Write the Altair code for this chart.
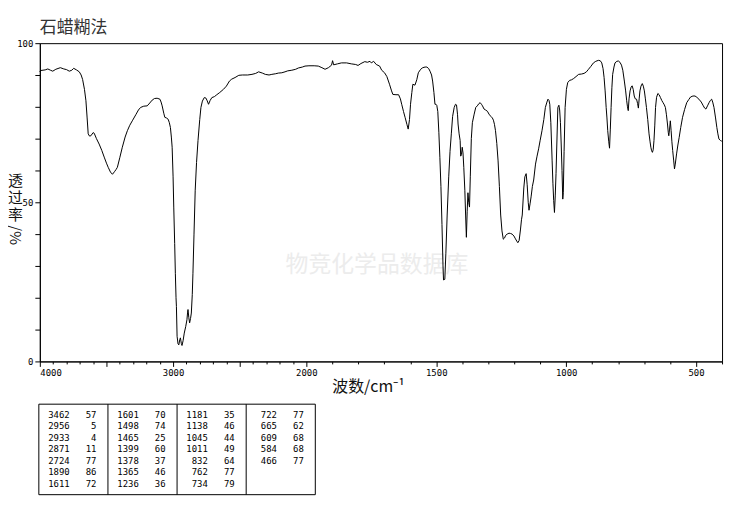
import altair as alt
import pandas as pd

# ---- spectrum (wavenumber cm-1, transmittance %) ----
wavenumber = [
    4000, 3995, 3960, 3940, 3920, 3903, 3880, 3846, 3820, 3800, 3779, 3760, 3746, 3725, 3704, 3690,
    3679, 3665, 3654, 3645, 3637, 3627, 3617, 3600, 3592, 3575, 3555, 3535, 3517, 3500, 3487, 3470,
    3455, 3440, 3428, 3418, 3400, 3381, 3360, 3343, 3325, 3306, 3280, 3260, 3244, 3220, 3194, 3175,
    3157, 3140, 3120, 3099, 3090, 3082, 3070, 3062, 3050, 3037, 3028, 3020, 3013, 3007, 3000, 2995,
    2988, 2983, 2978, 2975, 2970, 2963, 2957, 2950, 2945, 2938, 2933, 2925, 2916, 2905, 2896, 2891,
    2888, 2882, 2876, 2869, 2863, 2856, 2851, 2843, 2834, 2824, 2813, 2800, 2791, 2780, 2766, 2755,
    2746, 2734, 2722, 2709, 2690, 2672, 2650, 2622, 2600, 2577, 2560, 2535, 2507, 2480, 2460, 2440,
    2408, 2380, 2358, 2330, 2308, 2280, 2259, 2230, 2210, 2184, 2160, 2140, 2109, 2080, 2060, 2030,
    2010, 1990, 1970, 1954, 1940, 1928, 1915, 1903, 1899, 1895, 1880, 1865, 1845, 1827, 1810, 1801,
    1790, 1775, 1765, 1755, 1750, 1741, 1731, 1718, 1710, 1699, 1690, 1680, 1672, 1667, 1655, 1645,
    1638, 1633, 1626, 1620, 1613, 1608, 1603, 1599, 1594, 1590, 1582, 1575, 1569, 1560, 1552, 1543,
    1536, 1529, 1524, 1518, 1514, 1509, 1505, 1501, 1498, 1494, 1490, 1486, 1482, 1478, 1474, 1472,
    1467, 1463, 1458, 1452, 1447, 1442, 1437, 1431, 1426, 1422, 1418, 1416, 1412, 1408, 1406, 1403,
    1400, 1397, 1394, 1390, 1387, 1384, 1381, 1378, 1375, 1372, 1369, 1365, 1361, 1354, 1348, 1342,
    1336, 1331, 1326, 1322, 1316, 1310, 1303, 1297, 1290, 1284, 1280, 1276, 1272, 1267, 1262, 1257,
    1252, 1247, 1242, 1237, 1233, 1227, 1220, 1214, 1208, 1201, 1195, 1190, 1186, 1181, 1176, 1172,
    1169, 1163, 1159, 1154, 1150, 1146, 1143, 1139, 1135, 1130, 1125, 1118, 1112, 1106, 1100, 1093,
    1086, 1080, 1074, 1070, 1066, 1063, 1059, 1056, 1054, 1051, 1048, 1045, 1042, 1039, 1036, 1032,
    1028, 1025, 1022, 1019, 1016, 1013, 1011, 1008, 1004, 999, 994, 987, 979, 971, 962, 952,
    941, 931, 922, 914, 905, 895, 886, 876, 869, 863, 858, 854, 850, 846, 843, 840,
    836, 833, 830, 827, 824, 821, 816, 812, 805, 799, 793, 787, 782, 776, 771, 767,
    764, 761, 758, 754, 750, 746, 742, 738, 734, 729, 725, 722, 719, 716, 712, 707,
    703, 699, 695, 691, 686, 681, 677, 674, 671, 668, 665, 662, 659, 656, 652, 647,
    642, 637, 632, 627, 622, 618, 614, 610, 607, 605, 602, 599, 596, 593, 590, 586,
    583, 580, 575, 570, 565, 559, 552, 544, 536, 528, 521, 512, 504, 497, 489, 480,
    472, 467, 462, 456, 450, 445, 440, 436, 431, 425, 420, 416, 412, 406, 401,
]
transmittance = [
    91.0, 91.4, 91.6, 91.9, 91.5, 91.2, 91.8, 92.3, 91.9, 91.7, 91.2, 91.5, 92.1, 91.6, 91.0, 90.0,
    88.6, 85.5, 81.9, 76.5, 71.5, 70.8, 70.9, 71.9, 71.7, 70.0, 68.3, 66.3, 64.2, 62.3, 61.0, 59.5,
    58.8, 59.6, 60.3, 61.0, 64.0, 67.3, 70.5, 72.5, 74.2, 75.6, 77.5, 79.0, 79.8, 80.2, 80.3, 81.2,
    82.1, 82.6, 82.7, 82.4, 81.5, 80.3, 78.0, 76.7, 76.5, 76.1, 75.0, 73.5, 70.5, 67.3, 58.0, 48.5,
    37.0, 27.7, 20.0, 17.3, 7.9, 5.5, 5.2, 6.8, 7.4, 5.6, 5.0, 6.5, 8.9, 11.0, 13.1, 15.5,
    16.3, 13.8, 12.1, 13.5, 15.2, 21.0, 27.7, 40.0, 53.8, 62.5, 69.4, 76.0, 79.8, 81.8, 82.9, 82.8,
    82.1, 80.8, 82.0, 82.9, 83.2, 83.8, 84.5, 85.5, 86.5, 88.1, 88.7, 89.2, 89.9, 90.0, 90.0, 90.0,
    90.2, 90.5, 91.0, 90.6, 90.2, 90.0, 90.2, 90.4, 90.6, 90.7, 91.0, 91.3, 91.5, 91.8, 92.2, 92.5,
    92.8, 92.9, 92.9, 92.8, 92.3, 91.8, 92.3, 93.1, 94.5, 93.2, 93.5, 93.8, 93.8, 93.5, 93.3, 93.0,
    93.6, 94.2, 94.0, 94.3, 93.8, 94.3, 93.3, 92.8, 91.5, 90.7, 89.5, 87.1, 85.0, 83.9, 83.8, 83.8,
    82.5, 80.8, 78.5, 76.7, 74.5, 73.0, 76.0, 80.8, 84.5, 87.1, 86.8, 88.5, 90.7, 91.8, 92.3, 92.5,
    92.5, 92.0, 91.2, 90.0, 88.1, 84.5, 80.8, 80.8, 80.5, 78.5, 72.0, 64.0, 55.0, 43.0, 30.0, 25.6,
    25.8, 34.0, 46.0, 58.0, 66.0, 71.5, 77.0, 79.8, 80.8, 80.6, 77.5, 74.6, 71.5, 69.4, 64.5, 65.0,
    67.3, 65.5, 61.0, 53.8, 46.0, 39.0, 47.0, 53.0, 50.0, 48.5, 58.0, 70.0, 75.0, 77.7, 79.8, 80.3,
    81.0, 81.3, 80.8, 80.3, 79.3, 79.0, 78.6, 77.7, 77.0, 76.5, 75.8, 74.5, 72.5, 68.5, 63.0, 55.0,
    46.0, 41.0, 38.4, 38.8, 39.6, 40.0, 40.3, 40.2, 40.0, 39.4, 38.5, 37.8, 37.3, 38.0, 41.3, 44.5,
    46.0, 54.5, 58.0, 59.0, 55.5, 50.0, 47.5, 49.5, 51.7, 55.0, 57.0, 62.0, 64.5, 66.8, 69.5, 72.5,
    76.0, 79.8, 81.5, 82.4, 82.0, 80.8, 75.0, 68.0, 63.0, 56.0, 50.6, 46.8, 52.0, 59.0, 68.0, 79.8,
    80.5, 79.0, 75.0, 68.0, 60.0, 51.0, 53.0, 66.0, 79.8, 85.5, 87.6, 88.3, 88.5, 88.9, 89.5, 90.2,
    90.3, 90.5, 91.0, 91.8, 92.7, 93.8, 94.3, 94.6, 94.5, 93.8, 92.0, 89.2, 85.0, 79.8, 76.5, 72.5,
    69.0, 67.0, 73.0, 79.8, 86.0, 90.2, 92.5, 93.8, 94.3, 94.4, 94.0, 93.1, 91.5, 88.1, 85.0, 81.9,
    80.0, 78.8, 82.5, 85.0, 86.2, 86.6, 85.5, 83.4, 82.5, 82.4, 81.0, 79.6, 82.5, 85.0, 86.5, 87.3,
    86.5, 85.0, 82.5, 79.8, 76.0, 71.5, 69.0, 67.3, 66.2, 65.7, 66.5, 69.4, 74.0, 79.8, 83.0, 84.2,
    83.8, 82.9, 82.0, 81.3, 80.6, 79.8, 77.5, 74.6, 72.0, 70.9, 73.0, 75.6, 72.5, 69.0, 66.3, 63.0,
    60.5, 62.0, 65.2, 68.0, 70.4, 73.5, 76.7, 79.2, 81.3, 82.3, 83.1, 83.4, 83.4, 83.0, 82.4, 81.5,
    80.3, 79.6, 79.3, 80.3, 81.3, 82.0, 82.4, 81.5, 79.8, 76.5, 73.5, 71.5, 69.9, 69.4, 69.2,
]

# ---- peak table ----
peak_wn_col1 = [3462, 2956, 2933, 2871, 2724, 1890, 1611]
peak_t_col1 = [57, 5, 4, 11, 77, 86, 72]
peak_wn_col2 = [1601, 1498, 1465, 1399, 1378, 1365, 1236]
peak_t_col2 = [70, 74, 25, 60, 37, 46, 36]
peak_wn_col3 = [1181, 1138, 1045, 1011, 832, 762, 734]
peak_t_col3 = [35, 46, 44, 49, 64, 77, 79]
peak_wn_col4 = [722, 665, 609, 584, 466]
peak_t_col4 = [77, 62, 68, 68, 77]

title_text = "石蜡糊法"
x_title = "波数/cm⁻¹"
y_title_lines = ["透", "过", "率"]
y_title_unit = "/%"
watermark = "物竞化学品数据库"

x_tick_values = list(range(4000, 399, -100))
y_tick_values = list(range(0, 101, 10))

spec = pd.DataFrame({"wn": wavenumber, "T": transmittance})

rows = []
for c, (wns, ts) in enumerate(zip(
        [peak_wn_col1, peak_wn_col2, peak_wn_col3, peak_wn_col4],
        [peak_t_col1, peak_t_col2, peak_t_col3, peak_t_col4])):
    for r, (w, t) in enumerate(zip(wns, ts)):
        rows.append({"col": c, "row": r, "wn": str(w), "t": str(t)})
table = pd.DataFrame(rows)
dividers = pd.DataFrame({"col": [1, 2, 3]})
one = pd.DataFrame({"k": [0]})

CJK = "Noto Sans CJK SC"
NUM = "DejaVu Sans Mono"

line = alt.Chart(spec).mark_line(color="black", strokeWidth=1).encode(
    x=alt.X("wn:Q",
            scale=alt.Scale(domain=[4000, 2000, 400], range=[0, 268, 686], nice=False, zero=False),
            axis=alt.Axis(values=x_tick_values, format="d", grid=False,
                          labelExpr="(datum.value % 1000 === 0 || (datum.value <= 2000 && datum.value % 500 === 0 && datum.value > 400)) ? datum.label : ''",
                          tickSize={"condition": {"test": "datum.value % 500 === 0", "value": 5}, "value": 2.5},
                          labelOverlap=False, labelPadding=2, labelFont=NUM, labelFontSize=9,
                          title=x_title, titleFont=CJK, titleFontSize=16, titleFontWeight="normal",
                          titleX=330, titleY=30, titleBaseline="alphabetic", titleColor="#111")),
    y=alt.Y("T:Q",
            scale=alt.Scale(domain=[0, 100], nice=False, zero=False),
            axis=alt.Axis(values=y_tick_values, format="d", grid=False,
                          labelExpr="datum.value % 50 === 0 ? datum.label : ''",
                          tickSize=5, labelPadding=2, labelFont=NUM, labelFontSize=9,
                          labelOverlap=False,
                          title=y_title_lines, titleAngle=0, titleAlign="center", titleBaseline="top",
                          titleX=-25, titleY=131, titleFont=CJK, titleFontSize=15,
                          titleLineHeight=17, titleFontWeight="normal", titleColor="#111")),
)

unit = alt.Chart(one).mark_text(font=CJK, fontSize=15, angle=90, align="center",
                                baseline="middle", color="#111").encode(
    x=alt.value(-25), y=alt.value(193), text=alt.value(y_title_unit))

wm = alt.Chart(one).mark_text(font=CJK, fontSize=23, color="#ececec",
                              align="center", baseline="middle").encode(
    x=alt.value(339), y=alt.value(223), text=alt.value(watermark))

tx_scale = alt.Scale(domain=[0, 4], range=[-1, 277], nice=False, zero=False)
ty_scale = alt.Scale(domain=[-0.92, 6.92], range=[363, 454], nice=False, zero=False)

box = alt.Chart(one).mark_rect(fillOpacity=0, stroke="black", strokeWidth=1).encode(
    x=alt.value(-1), x2=alt.value(277), y=alt.value(363), y2=alt.value(454))

divs = alt.Chart(dividers).mark_rule(color="black", strokeWidth=1).encode(
    x=alt.X("col:Q", scale=tx_scale, axis=None),
    y=alt.value(363), y2=alt.value(454))

wn_text = alt.Chart(table).mark_text(font=NUM, fontSize=9, align="right", baseline="middle",
                                     dx=31, color="black").encode(
    x=alt.X("col:Q", scale=tx_scale, axis=None),
    y=alt.Y("row:Q", scale=ty_scale, axis=None),
    text="wn:N")

t_text = alt.Chart(table).mark_text(font=NUM, fontSize=9, align="right", baseline="middle",
                                    dx=58, color="black").encode(
    x=alt.X("col:Q", scale=tx_scale, axis=None),
    y=alt.Y("row:Q", scale=ty_scale, axis=None),
    text="t:N")

chart = alt.layer(wm, line, unit, box, divs, wn_text, t_text).resolve_scale(
    x="independent", y="independent"
).properties(
    width=686, height=320,
    background="white",
    autosize=alt.AutoSizeParams(type="none"),
    padding={"left": 32, "top": 34, "right": 8, "bottom": 140},
    title=alt.TitleParams(title_text, anchor="start", frame="group", font=CJK, fontSize=17,
                          fontWeight="normal", color="#333", offset=2),
).configure_view(stroke="black", strokeWidth=1).configure_axis(
    grid=False, domainColor="black", tickColor="black", labelColor="black", domainWidth=1, tickWidth=1
)

chart.save("out.html", embed_options={"renderer": "svg", "actions": False})
